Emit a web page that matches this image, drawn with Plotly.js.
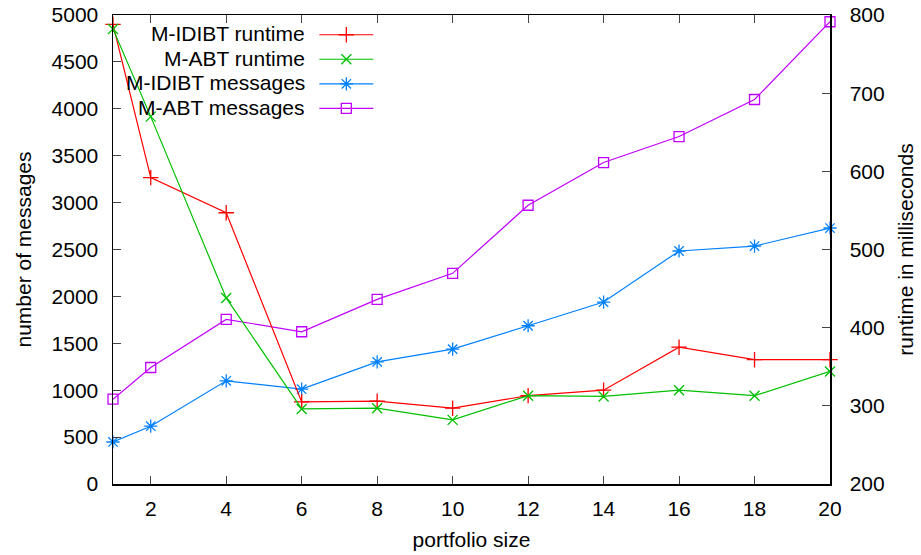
<!DOCTYPE html>
<html>
<head>
<meta charset="utf-8">
<script src="https://cdn.plot.ly/plotly-3.0.1.min.js"></script>
<style>html,body{margin:0;padding:0;background:#fff;}#chart{width:921px;height:555px;}</style>
</head>
<body>
<div id="chart"></div>
<script>
// ---- data ----
const portfolioSize = [1, 2, 4, 6, 8, 10, 12, 14, 16, 18, 20];
const idibtRuntime = [788, 592, 547, 305, 306, 297, 313, 320, 375, 359, 359];   // ms (right axis)
const abtRuntime   = [782, 670, 438, 296, 297, 282, 313, 312, 320, 313, 344];   // ms (right axis)
const idibtMessages = [448, 616, 1100, 1011, 1302, 1438, 1687, 1940, 2484, 2537, 2729]; // left axis
const abtMessages   = [904, 1242, 1755, 1623, 1968, 2246, 2972, 3427, 3704, 4099, 4928]; // left axis
const seriesNames = ["M-IDIBT runtime", "M-ABT runtime", "M-IDIBT messages", "M-ABT messages"];

// ---- styles ----
const colors = ["#ff0000", "#00c000", "#0080ff", "#c000ff"];
const symbols = ["cross-thin-open", "x-thin-open", "asterisk-open", "square-open"];
const msizes = [11, 10, 11, 10];
const FONT = "Liberation Sans, Arial, Helvetica, sans-serif";
const FS = 21;

const seriesY = [idibtRuntime, abtRuntime, idibtMessages, abtMessages];
const seriesAxis = ["y2", "y2", "y", "y"];

const traces = seriesY.map((ys, i) => ({
  type: "scatter", mode: "lines+markers",
  x: portfolioSize, y: ys, yaxis: seriesAxis[i], xaxis: "x",
  line: {color: colors[i], width: 1.2},
  marker: {symbol: symbols[i], size: msizes[i], color: colors[i], line: {color: colors[i], width: 1.3}},
  showlegend: false, cliponaxis: false, hoverinfo: "skip"
}));

// Gnuplot-style key: text right-aligned, sample line with marker on the right.
// Uses an overlay axis pair measured in pixels of the plot area.
const keyTextRight = 307, keyLineX0 = 319, keyLineX1 = 373, keyRow0 = 35, keyRowStep = 24.5;
const annotations = [];
seriesNames.forEach((name, i) => {
  const yy = keyRow0 + i * keyRowStep;
  traces.push({
    type: "scatter", mode: "lines", xaxis: "x3", yaxis: "y3",
    x: [keyLineX0, keyLineX1], y: [yy, yy],
    line: {color: colors[i], width: 1.2}, showlegend: false, hoverinfo: "skip"
  });
  traces.push({
    type: "scatter", mode: "markers", xaxis: "x3", yaxis: "y3",
    x: [(keyLineX0 + keyLineX1) / 2], y: [yy],
    marker: {symbol: symbols[i], size: msizes[i], color: colors[i], line: {color: colors[i], width: 1.3}},
    showlegend: false, hoverinfo: "skip", cliponaxis: false
  });
  annotations.push({
    xref: "x3", yref: "y3", x: keyTextRight, y: yy - 1, text: name,
    xanchor: "right", yanchor: "middle", showarrow: false,
    font: {family: FONT, size: FS, color: "#000"}
  });
});

const L = 112.5, R = 830, T = 15.3, B = 483.7;

const layout = {
  width: 921, height: 555,
  margin: {l: L, r: 921 - R, t: T, b: 555 - B, pad: 0},
  paper_bgcolor: "#fff", plot_bgcolor: "#fff",
  font: {family: FONT, size: FS, color: "#000"},
  showlegend: false,
  xaxis: {
    range: [1, 20], tick0: 0, dtick: 2, ticks: "inside", ticklen: 8, tickwidth: 1, tickcolor: "#444",
    showline: true, linecolor: "#000", linewidth: 1.5, mirror: "ticks", showgrid: false, zeroline: false,
    ticklabelstandoff: 5,
    title: {text: "portfolio size", font: {family: FONT, size: FS}, standoff: 13}
  },
  yaxis: {
    range: [0, 5000], dtick: 500, ticks: "inside", ticklen: 8, tickwidth: 1, tickcolor: "#444",
    showline: true, linecolor: "#000", linewidth: 1.5, showgrid: false, zeroline: false,
    ticklabelstandoff: 9,
    title: {text: "number of messages", font: {family: FONT, size: FS}, standoff: 14}
  },
  yaxis2: {
    range: [200, 800], dtick: 100, overlaying: "y", side: "right", ticks: "inside", ticklen: 8, tickwidth: 1, tickcolor: "#444",
    showline: true, linecolor: "#000", linewidth: 1.5, showgrid: false, zeroline: false,
    ticklabelstandoff: 14,
    title: {text: "runtime in milliseconds", font: {family: FONT, size: FS}, standoff: 14}
  },
  xaxis3: {overlaying: "x", range: [L, R], visible: false, fixedrange: true},
  yaxis3: {overlaying: "y", range: [B, T], visible: false, fixedrange: true},
  annotations: annotations
};

Plotly.newPlot("chart", traces, layout, {staticPlot: true, displayModeBar: false});
</script>
</body>
</html>
